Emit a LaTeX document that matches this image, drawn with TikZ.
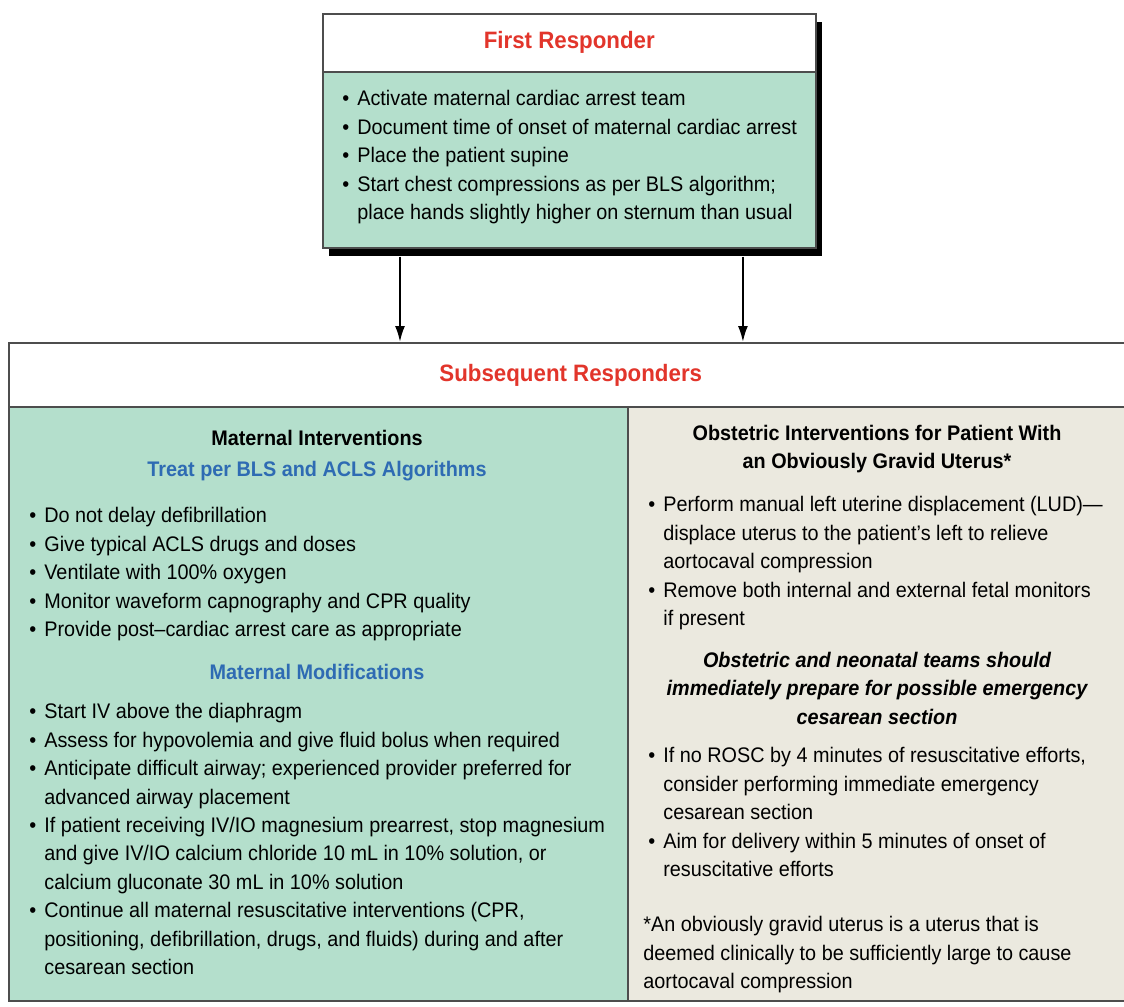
\documentclass[tikz,border=0pt]{standalone}
\usepackage{fontspec}
\setmainfont{Liberation Sans}[FakeStretch=0.94]
\usetikzlibrary{arrows.meta,positioning,shadows}
\definecolor{mintfill}{HTML}{B4DFCC}
\definecolor{sandfill}{HTML}{EBE9DF}
\definecolor{alertred}{HTML}{E2352B}
\definecolor{headblue}{HTML}{2E6BB3}
\definecolor{rulegray}{HTML}{4D4D4D}
\newcommand{\bl}{\makebox[0.3cm][l]{\textbullet}}
\newcommand{\hg}{\hspace*{0.3cm}}

\begin{document}
\begin{tikzpicture}[x=0.02cm,y=-0.02cm,
  panel/.style={draw=rulegray,line width=1pt,anchor=north west,inner sep=0pt},
  title/.style={text=alertred,font=\fontsize{13.5}{16}\selectfont\bfseries},
  subhead/.style={align=center,inner sep=0pt,font=\fontsize{12}{16}\selectfont\bfseries},
  lst/.style={anchor=north west,align=left,inner sep=0pt,font=\fontsize{12}{16.2}\selectfont},
  ar/.style={-{Latex[length=3.2mm,width=2mm]},line width=1.1pt}]

\useasboundingbox (0,0) rectangle (1124,1006);
\clip (0,0) rectangle (1124,1006);

% first responder box
\node[panel,fill=mintfill,minimum width=9.86cm,minimum height=4.68cm,
  drop shadow={shadow xshift=0.12cm,shadow yshift=-0.16cm,opacity=1,fill=black}] (first) at (322,13) {};
\node[panel,fill=white,minimum width=9.86cm,minimum height=1.16cm] (firsthead) at (322,13) {};
\node[title] (firsttitle) at (firsthead.center) {First Responder};
\node[lst] (firstlist) at (342,90) {\bl Activate maternal cardiac arrest team\\
\bl Document time of onset of maternal cardiac arrest\\
\bl Place the patient supine\\
\bl Start chest compressions as per BLS algorithm;\\
\hg place hands slightly higher on sternum than usual};

% subsequent responders
\node[panel,fill=white,minimum width=22.48cm,minimum height=1.28cm] (sub) at (8,342) {};
\node[title] (subtitle) at (sub.center) {Subsequent Responders};
\node[panel,fill=mintfill,minimum width=12.38cm,minimum height=11.88cm] (mat) at (8,406) {};
\node[panel,fill=sandfill,minimum width=10.1cm,minimum height=11.88cm] (obs) at (627,406) {};

% maternal side
\node[subhead] (matint) at (317,438) {Maternal Interventions};
\node[subhead,text=headblue] (treat) at (317,471) {Treat per BLS and ACLS Algorithms};
\node[lst] (matlist) at (29,507) {\bl Do not delay defibrillation\\
\bl Give typical ACLS drugs and doses\\
\bl Ventilate with 100\% oxygen\\
\bl Monitor waveform capnography and CPR quality\\
\bl Provide post--cardiac arrest care as appropriate};
\node[subhead,text=headblue] (matmod) at (317,672) {Maternal Modifications};
\node[lst] (modlist) at (29,703) {\bl Start IV above the diaphragm\\
\bl Assess for hypovolemia and give fluid bolus when required\\
\bl Anticipate difficult airway; experienced provider preferred for\\
\hg advanced airway placement\\
\bl If patient receiving IV/IO magnesium prearrest, stop magnesium\\
\hg and give IV/IO calcium chloride 10 mL in 10\% solution, or\\
\hg calcium gluconate 30 mL in 10\% solution\\
\bl Continue all maternal resuscitative interventions (CPR,\\
\hg positioning, defibrillation, drugs, and fluids) during and after\\
\hg cesarean section};

% obstetric side
\node[subhead] (obshead) at (877,449) {Obstetric Interventions for Patient With\\an Obviously Gravid Uterus*};
\node[lst] (obslist) at (648,496) {\bl Perform manual left uterine displacement (LUD)---\\
\hg displace uterus to the patient's left to relieve\\
\hg aortocaval compression\\
\bl Remove both internal and external fetal monitors\\
\hg if present};
\node[subhead,font=\fontsize{12}{16.2}\selectfont\bfseries\itshape] (teams) at (877,688) {Obstetric and neonatal teams should\\immediately prepare for possible emergency\\cesarean section};
\node[lst] (rosclist) at (648,747) {\bl If no ROSC by 4 minutes of resuscitative efforts,\\
\hg consider performing immediate emergency\\
\hg cesarean section\\
\bl Aim for delivery within 5 minutes of onset of\\
\hg resuscitative efforts};
\node[lst] (gravid) at (643,916) {*An obviously gravid uterus is a uterus that is\\
deemed clinically to be sufficiently large to cause\\
aortocaval compression};

% arrows
\coordinate (leftdrop) at ([xshift=1.56cm,yshift=-0.16cm]first.south west);
\coordinate (rightdrop) at ([xshift=8.42cm,yshift=-0.16cm]first.south west);
\draw[ar] (leftdrop) -- (leftdrop |- sub.north);
\draw[ar] (rightdrop) -- (rightdrop |- sub.north);
\end{tikzpicture}
\end{document}
